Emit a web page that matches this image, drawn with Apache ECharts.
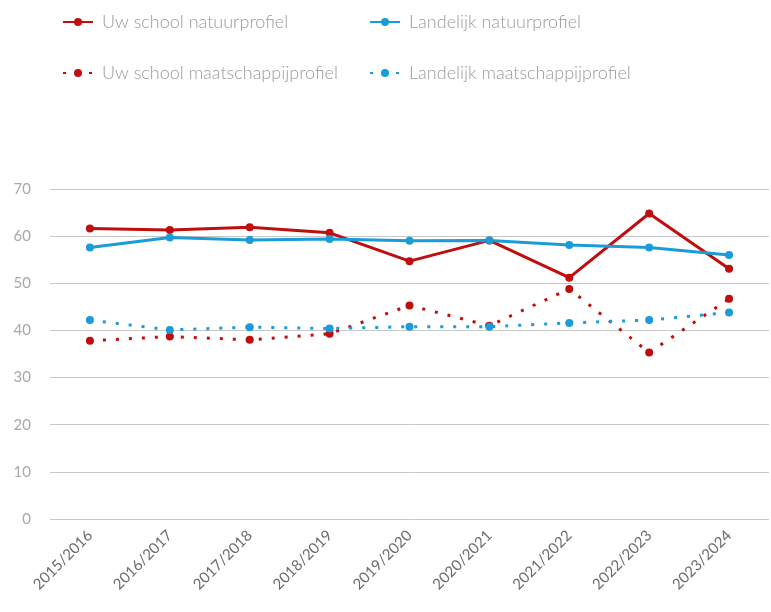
<!DOCTYPE html>
<html>
<head>
<meta charset="utf-8">
<script src="https://cdn.jsdelivr.net/npm/echarts@6/dist/echarts.min.js"></script>
<style>
  html, body { margin: 0; padding: 0; background: #ffffff; }
  #chart { width: 771px; height: 612px; }
</style>
</head>
<body>
<div id="chart"></div>
<script>
"use strict";

// schooljaren
const years = ["2015/2016", "2016/2017", "2017/2018", "2018/2019", "2019/2020",
               "2020/2021", "2021/2022", "2022/2023", "2023/2024"];

const schoolNatuur = [61.6, 61.3, 61.9, 60.7, 54.7, 59.1, 51.2, 64.8, 53.1];
const landNatuur = [57.6, 59.7, 59.2, 59.4, 59.0, 59.1, 58.1, 57.6, 56.0];
const schoolMaatschappij = [37.8, 38.7, 38.0, 39.3, 45.3, 41.0, 48.8, 35.3, 46.7];
const landMaatschappij = [42.2, 40.1, 40.7, 40.4, 40.8, 40.8, 41.6, 42.2, 43.8];

const yTicks = { min: 0, max: 70, interval: 10 };

const RED = "#C00D0D";
const BLUE = "#1A9CD8";
const FONT = "Lato, 'Open Sans', sans-serif";

function lineSeries(name, data, color, dotted){
    return {
        name,
        type: "line",
        data,
        symbol: "circle",
        symbolSize: 8,
        showSymbol: true,
        lineStyle: { width: 3, color, type: dotted ? [3, 10] : "solid" },
        itemStyle: { color },
        emphasis: { disabled: true },
        z: dotted ? 2 : 3
    };
}

function legendAt(name, left, top){
    return {
        data: [name],
        left,
        top,
        itemWidth: 30,
        itemHeight: 10,
        textStyle: { color: "#9a9a9a", fontSize: 18, fontFamily: FONT, fontWeight: 300, padding: [0, 0, 0, 4] },
        selectedMode: false
    };
}

const chart = echarts.init(document.getElementById("chart"));
chart.setOption({
    animation: false,
    legend: [
        legendAt("Uw school natuurprofiel", 57, 8),
        legendAt("Landelijk natuurprofiel", 364, 8),
        legendAt("Uw school maatschappijprofiel", 57, 59),
        legendAt("Landelijk maatschappijprofiel", 364, 59)
    ],
    grid: { left: 50, right: 2, top: 189, bottom: 93, containLabel: false },
    xAxis: {
        type: "category",
        data: years,
        boundaryGap: true,
        axisLine: { show: false },
        axisTick: { show: false },
        axisLabel: { rotate: 45, margin: 14, color: "#6a6a6a", fontSize: 15, fontFamily: FONT }
    },
    yAxis: {
        type: "value",
        min: yTicks.min,
        max: yTicks.max,
        interval: yTicks.interval,
        axisLine: { show: false },
        axisTick: { show: false },
        axisLabel: { margin: 19, color: "#a8a8a8", fontSize: 15, fontFamily: FONT },
        splitLine: { lineStyle: { color: "#c8c8c8", width: 1 } }
    },
    series: [
        lineSeries("Uw school natuurprofiel", schoolNatuur, RED, false),
        lineSeries("Landelijk natuurprofiel", landNatuur, BLUE, false),
        lineSeries("Uw school maatschappijprofiel", schoolMaatschappij, RED, true),
        lineSeries("Landelijk maatschappijprofiel", landMaatschappij, BLUE, true)
    ]
});
</script>
</body>
</html>
